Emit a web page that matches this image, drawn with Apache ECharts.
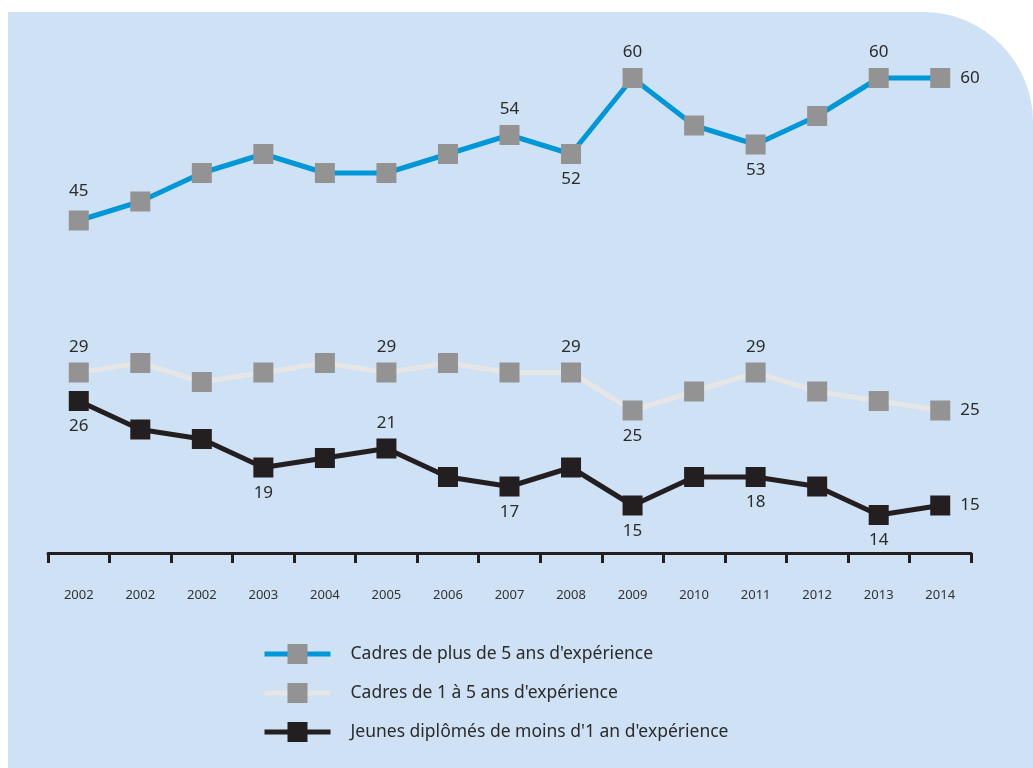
<!DOCTYPE html>
<html>
<head>
<meta charset="utf-8">
<script src="https://cdn.jsdelivr.net/npm/echarts@6/dist/echarts.min.js"></script>
<style>
html,body{margin:0;padding:0;background:#fff;}
#c{width:1033px;height:768px;}
</style>
</head>
<body>
<div id="c"></div>
<script>
const categories = ['2002','2002','2002','2003','2004','2005','2006','2007','2008','2009','2010','2011','2012','2013','2014'];
const seriesNames = ["Cadres de plus de 5 ans d'expérience", "Cadres de 1 à 5 ans d'expérience", "Jeunes diplômés de moins d'1 an d'expérience"];
const plus5 = [45, 47, 50, 52, 50, 50, 52, 54, 52, 60, 55, 53, 56, 60, 60];
const de1a5 = [29, 30, 28, 29, 30, 29, 30, 29, 29, 25, 27, 29, 27, 26, 25];
const jeunes = [26, 23, 22, 19, 20, 21, 18, 17, 19, 15, 18, 18, 17, 14, 15];
// label placement for the values that are printed on the chart (null = no label)
const plus5Labels = ['top',null,null,null,null,null,null,'top','bottom','top',null,'bottom',null,'top','right'];
const de1a5Labels = ['top',null,null,null,null,'top',null,null,'top','bottom',null,'top',null,null,'right'];
const jeunesLabels = ['bottom',null,null,'bottom',null,'top',null,'bottom',null,'bottom',null,'bottom',null,'bottom','right'];

const FONT = 'Noto Sans';
function buildData(values, labels){
  return values.map((v,i)=>{
    const p = labels[i];
    if(!p) return {value:v};
    let d = p==='right' ? 10 : 7;
    if(i===0 && p==='top' && v>40) d = 11;
    return {value:v, label:{show:true, position:p, distance:d}};
  });
}
function mkSeries(name, values, labels, lineColor, symColor){
  return {
    name: name, type:'line', data: buildData(values, labels),
    symbol:'rect', symbolSize:20, clip:false,
    lineStyle:{color:lineColor, width:5},
    itemStyle:{color:symColor},
    label:{show:false, fontFamily:FONT, fontSize:17, color:'#2b2b2b'},
    emphasis:{disabled:true}, animation:false
  };
}
const chart = echarts.init(document.getElementById('c'));
chart.setOption({
  backgroundColor:'transparent',
  animation:false,
  graphic:[{type:'rect', z:-10, silent:true, shape:{x:8,y:12,width:1025,height:756,r:[0,110,0,0]}, style:{fill:'#cfe1f4'}}],
  grid:{left:48, right:62, top:78, bottom:215},
  xAxis:{
    type:'category', data:categories, boundaryGap:true,
    axisLine:{lineStyle:{color:'#231f20', width:3}},
    axisTick:{show:true, length:10, interval:0, lineStyle:{color:'#231f20', width:3}},
    axisLabel:{interval:0, margin:36, fontFamily:FONT, fontSize:13, color:'#333'},
    splitLine:{show:false}
  },
  yAxis:{type:'value', min:10, max:60, show:false},
  legend:{
    orient:'vertical', left:262, top:644, padding:0, itemWidth:66, itemHeight:25, itemGap:19,
    data: seriesNames,
    lineStyle:{width:5},
    textStyle:{fontFamily:FONT, fontSize:17.5, color:'#2b2b2b', padding:[0,0,0,15]},
    selectedMode:false
  },
  series:[
    mkSeries(seriesNames[0], plus5, plus5Labels, '#0097d9', '#939393'),
    mkSeries(seriesNames[1], de1a5, de1a5Labels, '#e6e6e6', '#939393'),
    mkSeries(seriesNames[2], jeunes, jeunesLabels, '#231f20', '#231f20')
  ]
});
</script>
</body>
</html>
